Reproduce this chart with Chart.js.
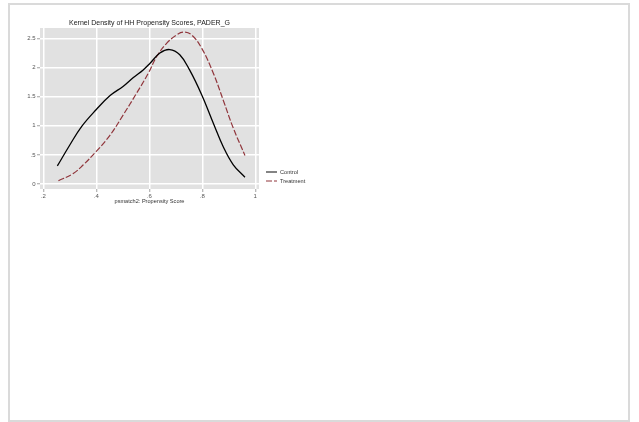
<!DOCTYPE html>
<html><head><meta charset="utf-8">
<script src="https://cdn.jsdelivr.net/npm/chart.js@4/dist/chart.umd.min.js"></script>
<style>
html,body{margin:0;padding:0;background:#fff;width:639px;height:422px;overflow:hidden}
#frame{position:absolute;left:8px;top:3px;width:622px;height:419px;box-sizing:border-box;border:2px solid #dadada}
#c{position:absolute;left:0;top:0}
</style></head><body>
<div id="frame"></div>
<canvas id="c" width="320" height="215"></canvas>
<script>
const titleText = 'Kernel Density of HH Propensity Scores, PADER_G';
const xAxisTitle = 'psmatch2: Propensity Score';
const seriesNames = ['Control', 'Treatment'];
const controlX = [0.253,0.300,0.345,0.400,0.452,0.502,0.540,0.577,0.602,0.640,0.677,0.715,0.752,0.798,0.842,0.879,0.917,0.961];
const controlY = [0.31,0.67,0.99,1.28,1.52,1.68,1.83,1.96,2.07,2.25,2.31,2.22,1.96,1.53,1.04,0.64,0.33,0.115];
const treatX = [0.257,0.313,0.351,0.399,0.452,0.502,0.552,0.596,0.628,0.666,0.703,0.728,0.760,0.798,0.842,0.879,0.917,0.961];
const treatY = [0.057,0.18,0.33,0.555,0.84,1.19,1.56,1.90,2.19,2.42,2.56,2.61,2.56,2.33,1.90,1.44,0.96,0.49];
const xTicks = [0.2, 0.4, 0.6, 0.8, 1];
const xTickLabels = ['.2', '.4', '.6', '.8', '1'];
const yTicks = [0, 0.5, 1, 1.5, 2, 2.5];
const yTickLabels = ['0', '.5', '1', '1.5', '2', '2.5'];

const FONT = '"Liberation Sans", Arial, Helvetica, sans-serif';

const panelBg = {
  id: 'panelBg',
  beforeDraw(chart) {
    const {ctx, chartArea: a} = chart;
    ctx.save();
    ctx.fillStyle = '#e1e1e1';
    ctx.fillRect(a.left, a.top, a.right - a.left, a.bottom - a.top);
    ctx.restore();
  }
};

const refLegend = {
  id: 'refLegend',
  afterDraw(chart) {
    const {ctx, chartArea: a} = chart;
    ctx.save();
    chart.data.datasets.forEach((ds, i) => {
      const y = Math.round(a.bottom - 17 + i * 8.5);
      ctx.beginPath();
      ctx.strokeStyle = i === 0 ? '#666666' : ds.borderColor;
      ctx.lineWidth = i === 0 ? 1.6 : 1;
      ctx.setLineDash(ds.borderDash || []);
      ctx.moveTo(a.right + 7, y);
      ctx.lineTo(a.right + 18, y);
      ctx.stroke();
      ctx.setLineDash([]);
      ctx.fillStyle = '#333';
      ctx.font = '5.6px ' + FONT;
      ctx.textBaseline = 'middle';
      ctx.textAlign = 'left';
      ctx.fillText(ds.label, a.right + 21, y);
    });
    ctx.restore();
  }
};

const toPts = (xs, ys) => xs.map((x, i) => ({x: x, y: ys[i]}));

new Chart(document.getElementById('c'), {
  type: 'line',
  data: {
    datasets: [
      {label: seriesNames[0], data: toPts(controlX, controlY), borderColor: '#000000', borderWidth: 1.3,
       pointRadius: 0, fill: false, tension: 0.4},
      {label: seriesNames[1], data: toPts(treatX, treatY), borderColor: '#90353b', borderWidth: 1.2,
       borderDash: [6, 2], pointRadius: 0, fill: false, tension: 0.4}
    ]
  },
  options: {
    responsive: false,
    devicePixelRatio: 1,
    animation: false,
    layout: {padding: {left: 0, right: 61, top: 0, bottom: 0}},
    plugins: {
      legend: {display: false},
      tooltip: {enabled: false},
      title: {display: true, text: titleText, fullSize: false, color: '#1a1a1a',
        font: {family: FONT, size: 7, weight: 'normal', lineHeight: 1.2},
        padding: {top: 18.6, bottom: 1.0}}
    },
    scales: {
      x: {
        type: 'linear', min: 0.1875, max: 1.014,
        afterBuildTicks: (s) => { s.ticks = xTicks.map(v => ({value: v})); },
        afterFit: (s) => { s.height = 26; },
        ticks: {
          callback: (v) => { const i = xTicks.indexOf(v); return i >= 0 ? xTickLabels[i] : ''; },
          color: '#555', font: {family: FONT, size: 6, lineHeight: 1.2}, padding: 0.6, maxRotation: 0, autoSkip: false
        },
        grid: {color: '#ffffff', lineWidth: 1.5, drawTicks: true, tickLength: 3, tickColor: '#8a8a8a', tickWidth: 0.8},
        border: {display: false},
        title: {display: true, text: xAxisTitle, color: '#333', font: {family: FONT, size: 5.6, lineHeight: 1.2},
          padding: {top: 0, bottom: 10.4}}
      },
      y: {
        type: 'linear', min: -0.086, max: 2.68,
        afterBuildTicks: (s) => { s.ticks = yTicks.map(v => ({value: v})); },
        afterFit: (s) => { s.width = 40; },
        ticks: {
          callback: (v) => { const i = yTicks.indexOf(v); return i >= 0 ? yTickLabels[i] : ''; },
          color: '#555', font: {family: FONT, size: 6, lineHeight: 1.2}, padding: 1.5, autoSkip: false
        },
        grid: {color: '#ffffff', lineWidth: 1.5, drawTicks: true, tickLength: 3, tickColor: '#8a8a8a', tickWidth: 0.8},
        border: {display: false}
      }
    }
  },
  plugins: [panelBg, refLegend]
});
</script>
</body></html>
